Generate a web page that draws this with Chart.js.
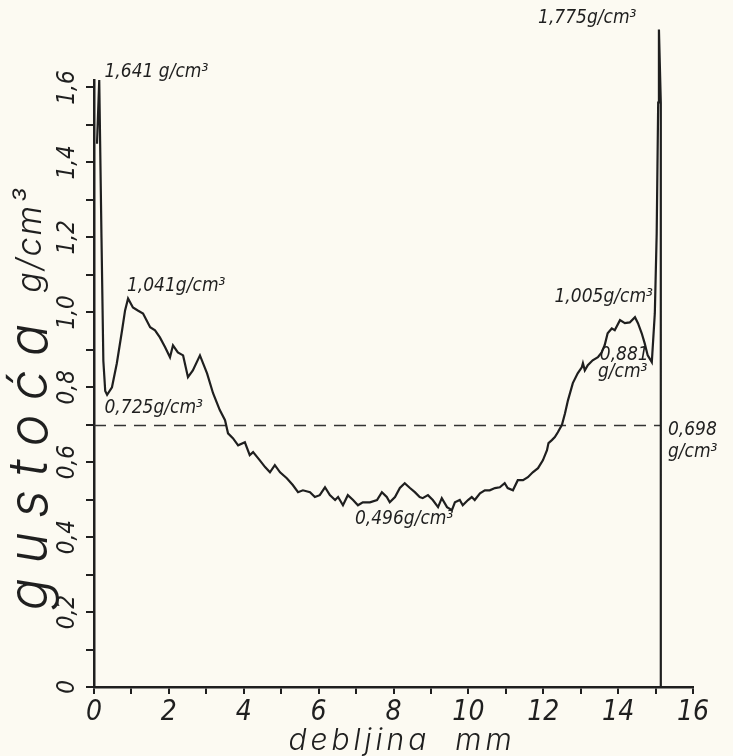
<!DOCTYPE html>
<html>
<head>
<meta charset="utf-8">
<script src="https://cdn.jsdelivr.net/npm/chart.js@4.4.1/dist/chart.umd.min.js"></script>
<style>
  body { margin: 0; background: #fcfaf2; }
  canvas { display: block; }
</style>
</head>
<body>
<canvas id="profileChart" width="733" height="756"></canvas>
<script>
// density profile across the board thickness
const thickness = [0.08, 0.14, 0.20, 0.25, 0.30, 0.35, 0.48, 0.61, 0.75, 0.83, 0.91, 1.04, 1.17, 1.31, 1.50,
  1.63, 1.76, 1.90, 2.03, 2.11, 2.24, 2.38, 2.51, 2.64, 2.83, 3.02, 3.18, 3.36, 3.50, 3.58, 3.71, 3.85,
  4.03, 4.16, 4.25, 4.43, 4.57, 4.70, 4.83, 4.97, 5.15, 5.31, 5.45, 5.58, 5.77, 5.90, 6.03, 6.17, 6.30,
  6.44, 6.52, 6.65, 6.78, 6.92, 7.05, 7.18, 7.37, 7.56, 7.69, 7.82, 7.90, 8.04, 8.17, 8.30, 8.44, 8.57,
  8.70, 8.78, 8.92, 9.05, 9.19, 9.29, 9.43, 9.56, 9.64, 9.77, 9.85, 9.99, 10.09, 10.17, 10.31, 10.44,
  10.57, 10.71, 10.84, 10.97, 11.05, 11.19, 11.32, 11.46, 11.59, 11.72, 11.86, 11.99, 12.10, 12.14,
  12.23, 12.31, 12.39, 12.50, 12.58, 12.66, 12.79, 12.92, 13.03, 13.06, 13.11, 13.19, 13.32, 13.46,
  13.56, 13.64, 13.72, 13.83, 13.91, 14.05, 14.18, 14.31, 14.45, 14.53, 14.63, 14.71, 14.79, 14.90,
  14.98, 15.03, 15.07, 15.09, 15.14, 15.14];
const density = [1.45, 1.62, 1.20, 0.87, 0.79, 0.78, 0.80, 0.864, 0.952, 1.005, 1.037, 1.013, 1.005, 0.997, 0.96,
  0.952, 0.933, 0.907, 0.88, 0.912, 0.893, 0.885, 0.827, 0.845, 0.885, 0.837, 0.784, 0.739, 0.712, 0.677, 0.664, 0.645,
  0.653, 0.619, 0.627, 0.605, 0.587, 0.573, 0.592, 0.573, 0.557, 0.539, 0.52, 0.525, 0.52, 0.507, 0.512, 0.533, 0.512,
  0.499, 0.507, 0.485, 0.512, 0.499, 0.485, 0.493, 0.493, 0.499, 0.52, 0.507, 0.493, 0.507, 0.531, 0.544, 0.531, 0.52,
  0.507, 0.504, 0.512, 0.499, 0.48, 0.504, 0.48, 0.472, 0.493, 0.499, 0.485, 0.499, 0.507, 0.499, 0.517, 0.525,
  0.525, 0.531, 0.533, 0.544, 0.531, 0.525, 0.552, 0.552, 0.56, 0.573, 0.584, 0.605, 0.632, 0.651,
  0.659, 0.667, 0.68, 0.70, 0.73, 0.765, 0.811, 0.837, 0.853, 0.864, 0.845, 0.859, 0.872, 0.88,
  0.893, 0.912, 0.944, 0.957, 0.952, 0.979, 0.971, 0.973, 0.987, 0.971, 0.944, 0.917, 0.885, 0.867,
  0.997, 1.21, 1.56, 1.755, 1.56, 0];

// mean density line
const meanX = [0, 15.14];
const meanY = [0.698, 0.698];

const yTickValues = [0, 0.1, 0.2, 0.3, 0.4, 0.5, 0.6, 0.7, 0.8, 0.9, 1.0, 1.1, 1.2, 1.3, 1.4, 1.5, 1.6];
const yTickLabels = ['0', '0,2', '0,4', '0,6', '0,8', '1,0', '1,2', '1,4', '1,6'];
const xTickLabels = ['0', '2', '4', '6', '8', '10', '12', '14', '16'];

const notes = [
  { text: '1,641 g/cm³', x: 0.28, y: 1.64 },
  { text: '1,041g/cm³', x: 0.88, y: 1.07 },
  { text: '0,725g/cm³', x: 0.28, y: 0.745 },
  { text: '0,496g/cm³', x: 6.97, y: 0.448 },
  { text: '1,005g/cm³', x: 12.3, y: 1.04 },
  { text: '0,881', x: 13.51, y: 0.885 },
  { text: 'g/cm³', x: 13.46, y: 0.84 },
  { text: '1,775g/cm³', x: 11.86, y: 1.784 },
  { text: '0,698', x: 15.33, y: 0.685 },
  { text: 'g/cm³', x: 15.33, y: 0.627 }
];

const ink = '#1f1f1f';
const hand = "'Liberation Sans Narrow', 'DejaVu Sans Condensed', sans-serif";
const thin = "Inter, 'Open Sans', 'DejaVu Sans', sans-serif";

const paperNotes = {
  id: 'paperNotes',
  afterDatasetsDraw(chart) {
    const { ctx, scales: { x, y } } = chart;
    ctx.save();
    ctx.fillStyle = ink;
    ctx.textBaseline = 'middle';
    ctx.font = 'italic 19px ' + hand;
    notes.forEach(n => ctx.fillText(n.text, x.getPixelForValue(n.x), y.getPixelForValue(n.y)));

    // axis titles, hand lettered with wide spacing
    ctx.textAlign = 'center';
    ctx.letterSpacing = '4px';
    ctx.font = 'italic 300 30px ' + thin;
    ctx.fillText('debljina  mm', 402, 741);

    ctx.translate(47, 0);
    ctx.rotate(-Math.PI / 2);
    ctx.textBaseline = 'alphabetic';
    ctx.letterSpacing = '14px';
    ctx.font = 'italic 300 54px ' + thin;
    ctx.fillText('gustoća', -460, 0);
    ctx.letterSpacing = '2px';
    ctx.font = 'italic 300 34px ' + thin;
    ctx.fillText('g/cm³', -240, -6);
    ctx.restore();
  }
};

new Chart(document.getElementById('profileChart'), {
  type: 'line',
  data: {
    datasets: [{
      data: thickness.map((t, i) => ({ x: t, y: density[i] })),
      borderColor: ink,
      borderWidth: 2.2,
      pointRadius: 0,
      tension: 0,
      clip: false
    }, {
      data: meanX.map((t, i) => ({ x: t, y: meanY[i] })),
      borderColor: '#333',
      borderWidth: 1.6,
      borderDash: [12, 8],
      pointRadius: 0
    }]
  },
  options: {
    responsive: false,
    animation: false,
    layout: { padding: { top: 80, right: 40, left: 0, bottom: 0 } },
    plugins: { legend: { display: false }, tooltip: { enabled: false } },
    scales: {
      x: {
        type: 'linear',
        min: 0,
        max: 16,
        border: { color: ink, width: 2.5 },
        grid: { drawOnChartArea: false, color: ink, lineWidth: 2, tickLength: 7 },
        ticks: {
          stepSize: 1,
          color: ink,
          padding: 2,
          minRotation: 0,
          maxRotation: 0,
          autoSkip: false,
          font: { family: hand, size: 28, style: 'italic' },
          callback: v => (v % 2 === 0 ? xTickLabels[v / 2] : '')
        },
        afterFit: s => { s.height = 69; }
      },
      y: {
        min: 0,
        max: 1.62,
        border: { color: ink, width: 2.5 },
        grid: { drawOnChartArea: false, color: ink, lineWidth: 2, tickLength: 8 },
        afterBuildTicks: s => { s.ticks = yTickValues.map(v => ({ value: v })); },
        ticks: {
          color: ink,
          padding: 1,
          minRotation: 90,
          maxRotation: 90,
          crossAlign: 'center',
          autoSkip: false,
          font: { family: hand, size: 24, style: 'italic' },
          callback: v => {
            const k = Math.round(v * 5);
            return Math.abs(v * 5 - k) < 1e-6 ? yTickLabels[k] : '';
          }
        },
        afterFit: s => { s.width = 94; }
      }
    }
  },
  plugins: [paperNotes]
});
</script>
</body>
</html>
